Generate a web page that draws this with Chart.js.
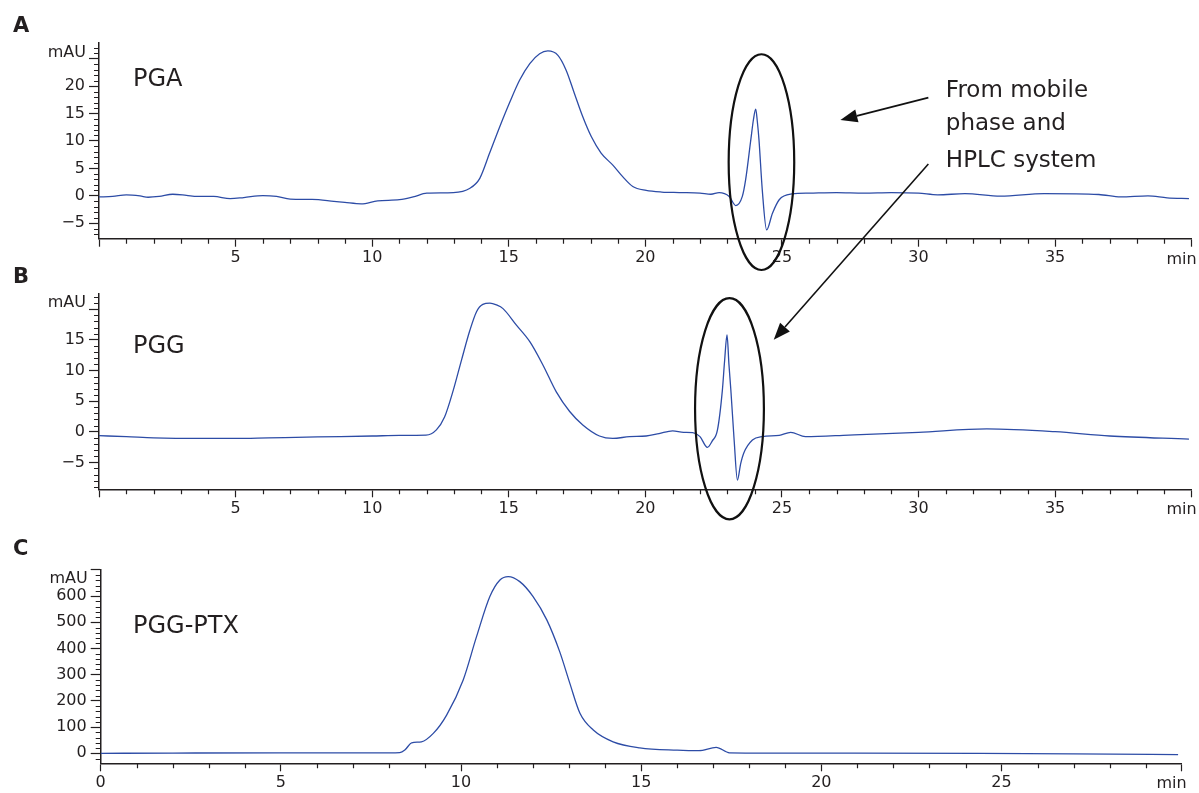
<!DOCTYPE html>
<html>
<head>
<meta charset="utf-8">
<script src="https://cdn.jsdelivr.net/npm/chart.js@4.4.1/dist/chart.umd.min.js"></script>
<style>
  html, body { margin: 0; padding: 0; background: #fff; }
  #wrap { position: relative; width: 1199px; height: 793px; }
  #wrap canvas { position: absolute; left: 0; top: 0; }
</style>
</head>
<body>
<div id="wrap">
  <canvas id="chartA" width="1199" height="793"></canvas>
  <canvas id="chartB" width="1199" height="793"></canvas>
  <canvas id="chartC" width="1199" height="793"></canvas>
</div>
<script>
// Panel A - PGA (retention time in min, absorbance in mAU)
const timeA = [0.0, 0.5, 1.0, 1.5, 1.8, 2.2, 2.7, 3.2, 3.6, 4.2, 4.8, 5.3, 6.0, 6.5, 7.0, 7.8, 8.6, 9.0, 9.6, 10.2,
  11.0, 11.5, 12.0, 12.97, 13.58, 13.94, 14.3, 14.67, 15.04, 15.4, 15.77, 16.13, 16.43, 16.8, 17.1, 17.4, 17.71,
  18.02, 18.38, 18.81, 19.17, 19.54, 20.03, 20.6, 21.24, 22.0, 22.4, 22.7, 23.07, 23.31, 23.55, 23.67, 23.86,
  23.96, 24.04, 24.1, 24.16, 24.28, 24.44, 24.65, 24.9, 25.37, 26.0, 27.0, 28.0, 29.0, 30.0, 30.7, 31.7, 33.0,
  34.6, 36.6, 37.4, 38.4, 39.1, 39.9];
const absA = [-0.2, -0.1, 0.2, 0.0, -0.25, -0.1, 0.3, 0.1, -0.1, -0.1, -0.5, -0.3, 0.05, -0.1, -0.6, -0.65, -1.0, -1.2, -1.45, -0.9,
  -0.7, -0.2, 0.5, 0.6, 1.4, 3.2, 7.8, 12.6, 17.1, 21.1, 24.1, 25.9, 26.4, 25.6, 22.9, 18.7, 14.4,
  10.8, 7.8, 5.6, 3.5, 1.7, 1.0, 0.7, 0.6, 0.5, 0.3, 0.6, -0.1, -1.76, -0.1, 2.9, 10.2,
  14.0, 15.8, 13.5, 10.2, 1.1, -6.2, -3.2, -0.7, 0.35, 0.5, 0.6, 0.5, 0.6, 0.5, 0.2, 0.4, -0.05,
  0.4, 0.25, -0.2, 0.0, -0.35, -0.5];

// Panel B - PGG
const timeB = [0.0, 1.0, 2.0, 3.7, 5.0, 6.2, 8.0, 10.0, 11.0, 11.97, 12.35, 12.65, 12.97, 13.27, 13.58, 13.82, 14.05,
  14.31, 14.55, 14.79, 15.28, 15.77, 16.25, 16.74, 17.23, 17.71, 18.32, 18.81, 19.42, 20.03, 20.5, 21.0, 21.4,
  21.73, 22.0, 22.27, 22.45, 22.64, 22.82, 22.9, 22.99, 23.06, 23.13, 23.25, 23.37, 23.49, 23.6, 23.92, 24.28,
  24.9, 25.32, 25.86, 27.45, 30.0, 32.5, 35.0, 37.0, 39.9];
const absB = [-0.65, -0.8, -1.0, -1.1, -1.1, -1.0, -0.85, -0.7, -0.6, -0.55, 0.3, 2.4, 6.8, 11.7, 16.6, 19.6, 20.8,
  21.0, 20.7, 20.1, 17.4, 14.7, 10.9, 6.5, 3.3, 1.1, -0.7, -1.1, -0.8, -0.7, -0.3, 0.15, -0.1,
  -0.15, -0.8, -2.55, -1.5, 0.3, 6.8, 11.5, 15.8, 11.0, 6.8, -1.35, -7.9, -5.2, -3.5, -1.35, -0.8,
  -0.6, -0.1, -0.8, -0.55, -0.1, 0.45, 0.0, -0.7, -1.2];

// Panel C - PGG-PTX
const timeC = [0, 2, 5, 8.0, 8.3, 8.44, 8.63, 8.9, 9.23, 9.6, 10.06, 10.43, 10.8, 11.08, 11.31, 11.63, 12.0, 12.38,
  12.74, 13.02, 13.3, 13.67, 14.22, 14.96, 16.0, 16.6, 17.08, 17.45, 18.5, 20, 24.4, 27, 29.9];
const absC = [0, 1, 2, 2, 3, 12.6, 40, 44, 76, 146, 280, 445, 598, 661, 674, 655, 598, 509,
  387, 267, 153, 89, 44, 21, 12, 10, 23, 2, 1, 1, 0, -2, -5];

// tick labels shown on each axis
const xLabelsAB = [5, 10, 15, 20, 25, 30, 35];
const xLabelsC = [0, 5, 10, 15, 20, 25];
const yLabelsA = [-5, 0, 5, 10, 15, 20];
const yLabelsB = [-5, 0, 5, 10, 15];
const yLabelsC = [0, 100, 200, 300, 400, 500, 600];

const INK = '#231f20';
const TRACE = '#2d4ca6';
Chart.defaults.font.family = "'DejaVu Sans', sans-serif";
Chart.defaults.color = INK;

function fmt(v) {
  return v < 0 ? '\u2212' + Math.abs(v) : String(v);
}

function toPoints(xs, ys) {
  return xs.map((t, i) => ({ x: t, y: ys[i] }));
}

// tick values on round steps inside [min, max]
function stepTicks(scale, step) {
  const first = Math.ceil(scale.min / step) * step;
  const ticks = [];
  for (let v = first; v <= scale.max + 1e-9; v += step) {
    ticks.push({ value: Math.round(v * 1000) / 1000 });
  }
  scale.ticks = ticks;
}

// minor ticks (shorter) plus panel texts
const axisDecor = {
  id: 'axisDecor',
  afterDraw(chart, args, opts) {
    const { ctx, chartArea: a, scales: { x, y } } = chart;
    ctx.save();
    ctx.strokeStyle = INK;
    ctx.lineWidth = 1.2;
    ctx.beginPath();
    x.ticks.forEach(t => {
      if (Math.round(t.value) % opts.xMajor === 0) return;
      const px = Math.round(x.getPixelForValue(t.value)) + 0.5;
      ctx.moveTo(px, a.bottom);
      ctx.lineTo(px, a.bottom + 5);
    });
    y.ticks.forEach(t => {
      if (Math.round(t.value) % opts.yMajor === 0) return;
      const py = Math.round(y.getPixelForValue(t.value)) + 0.5;
      ctx.moveTo(a.left - 5, py);
      ctx.lineTo(a.left, py);
    });
    ctx.stroke();

    ctx.fillStyle = INK;
    ctx.font = "bold 21px 'DejaVu Sans'";
    ctx.textAlign = 'left';
    ctx.textBaseline = 'alphabetic';
    ctx.fillText(opts.letter, 13, a.top + opts.letterDy);

    ctx.font = "24px 'DejaVu Sans'";
    ctx.fillText(opts.name, 133, a.top + opts.nameDy);

    ctx.font = "16px 'DejaVu Sans'";
    ctx.textAlign = 'right';
    ctx.textBaseline = 'middle';
    ctx.fillText('mAU', a.left - 13, a.top + 10);
    ctx.fillText('min', a.right + 5, a.bottom + 21);
    ctx.restore();
  }
};

// circled peaks, arrows and the note
const callouts = {
  id: 'callouts',
  afterDraw(chart, args, opts) {
    const { ctx, scales: { x, y } } = chart;
    ctx.save();
    ctx.strokeStyle = '#111';
    ctx.fillStyle = '#111';
    (opts.ellipses || []).forEach(e => {
      const x0 = x.getPixelForValue(e.x0), x1 = x.getPixelForValue(e.x1);
      const y0 = y.getPixelForValue(e.y0), y1 = y.getPixelForValue(e.y1);
      ctx.lineWidth = 2.2;
      ctx.beginPath();
      ctx.ellipse((x0 + x1) / 2, (y0 + y1) / 2, Math.abs(x1 - x0) / 2, Math.abs(y1 - y0) / 2, 0, 0, Math.PI * 2);
      ctx.stroke();
    });
    (opts.arrows || []).forEach(ar => {
      const sx = x.getPixelForValue(ar.from[0]), sy = y.getPixelForValue(ar.from[1]);
      const ex = x.getPixelForValue(ar.to[0]), ey = y.getPixelForValue(ar.to[1]);
      const ang = Math.atan2(ey - sy, ex - sx);
      const len = 17, half = 6.5;
      const bx = ex - len * Math.cos(ang), by = ey - len * Math.sin(ang);
      ctx.lineWidth = 1.6;
      ctx.beginPath();
      ctx.moveTo(sx, sy);
      ctx.lineTo(bx, by);
      ctx.stroke();
      ctx.beginPath();
      ctx.moveTo(ex, ey);
      ctx.lineTo(bx + half * Math.sin(ang), by - half * Math.cos(ang));
      ctx.lineTo(bx - half * Math.sin(ang), by + half * Math.cos(ang));
      ctx.closePath();
      ctx.fill();
    });
    if (opts.note) {
      ctx.fillStyle = INK;
      ctx.font = "23px 'DejaVu Sans'";
      ctx.textAlign = 'left';
      ctx.textBaseline = 'alphabetic';
      opts.note.lines.forEach((txt, i) => {
        ctx.fillText(txt, x.getPixelForValue(opts.note.x), y.getPixelForValue(opts.note.y[i]));
      });
    }
    ctx.restore();
  }
};

function makeChart(id, cfg) {
  return new Chart(document.getElementById(id), {
    type: 'line',
    data: {
      datasets: [{
        data: toPoints(cfg.time, cfg.values),
        borderColor: TRACE,
        borderWidth: 1.3,
        pointRadius: 0,
        cubicInterpolationMode: 'monotone',
        fill: false
      }]
    },
    options: {
      responsive: false,
      animation: false,
      devicePixelRatio: 1,
      layout: { padding: cfg.padding },
      plugins: {
        legend: { display: false },
        tooltip: { enabled: false },
        axisDecor: cfg.decor,
        callouts: cfg.callouts || {}
      },
      scales: {
        x: {
          type: 'linear',
          min: cfg.xMin,
          max: cfg.xMax,
          afterBuildTicks: s => stepTicks(s, 1),
          afterFit: s => { s.height = 28; },
          ticks: {
            autoSkip: false,
            maxRotation: 0,
            padding: 2,
            font: { size: 16 },
            callback: v => cfg.xLabels.includes(v) ? fmt(v) : ''
          },
          grid: {
            drawOnChartArea: false,
            tickLength: 8,
            tickWidth: 1.2,
            tickColor: c => (c.tick && Math.round(c.tick.value) % cfg.decor.xMajor === 0) ? INK : 'rgba(0,0,0,0)'
          },
          border: { color: INK, width: 1.5 }
        },
        y: {
          type: 'linear',
          min: cfg.yMin,
          max: cfg.yMax,
          afterBuildTicks: s => stepTicks(s, cfg.yStep),
          afterFit: s => { s.width = cfg.left; },
          ticks: {
            autoSkip: false,
            padding: 4,
            font: { size: 16 },
            callback: v => cfg.yLabels.includes(v) ? fmt(v) : ''
          },
          grid: {
            drawOnChartArea: false,
            tickLength: 10,
            tickWidth: 1.2,
            tickColor: c => (c.tick && Math.round(c.tick.value) % cfg.decor.yMajor === 0) ? INK : 'rgba(0,0,0,0)'
          },
          border: { color: INK, width: 1.5 }
        }
      }
    },
    plugins: [axisDecor, callouts]
  });
}

makeChart('chartA', {
  time: timeA, values: absA,
  xMin: 0, xMax: 40, yMin: -7.8, yMax: 27.9, yStep: 1,
  xLabels: xLabelsAB, yLabels: yLabelsA,
  left: 99,
  padding: { top: 42.7, right: 7.3, bottom: 526.3, left: 0 },
  decor: { xMajor: 5, yMajor: 5, letter: 'A', letterDy: -10.4, name: 'PGA', nameDy: 43.3 },
  callouts: {
    ellipses: [{ x0: 23.05, x1: 25.45, y0: -13.5, y1: 25.8 }],
    arrows: [{ from: [30.36, 17.9], to: [27.14, 13.8] }],
    note: { x: 31.0, y: [18.05, 12.0, 5.2], lines: ['From mobile', 'phase and', 'HPLC system'] }
  }
});

makeChart('chartB', {
  time: timeB, values: absB,
  xMin: 0, xMax: 40, yMin: -9.4, yMax: 22.6, yStep: 1,
  xLabels: xLabelsAB, yLabels: yLabelsB,
  left: 99,
  padding: { top: 293.3, right: 7.3, bottom: 275.7, left: 0 },
  decor: { xMajor: 5, yMajor: 5, letter: 'B', letterDy: -10, name: 'PGG', nameDy: 59.4 },
  callouts: {
    ellipses: [{ x0: 21.82, x1: 24.34, y0: -14.3, y1: 21.8 }],
    arrows: [{ from: [30.36, 43.7], to: [24.7, 15.0] }]
  }
});

makeChart('chartC', {
  time: timeC, values: absC,
  xMin: 0, xMax: 30, yMin: -38, yMax: 702, yStep: 20,
  xLabels: xLabelsC, yLabels: yLabelsC,
  left: 100.7,
  padding: { top: 569.3, right: 17.3, bottom: 1.7, left: 0 },
  decor: { xMajor: 5, yMajor: 100, letter: 'C', letterDy: -14.3, name: 'PGG-PTX', nameDy: 64 }
});
</script>
</body>
</html>
